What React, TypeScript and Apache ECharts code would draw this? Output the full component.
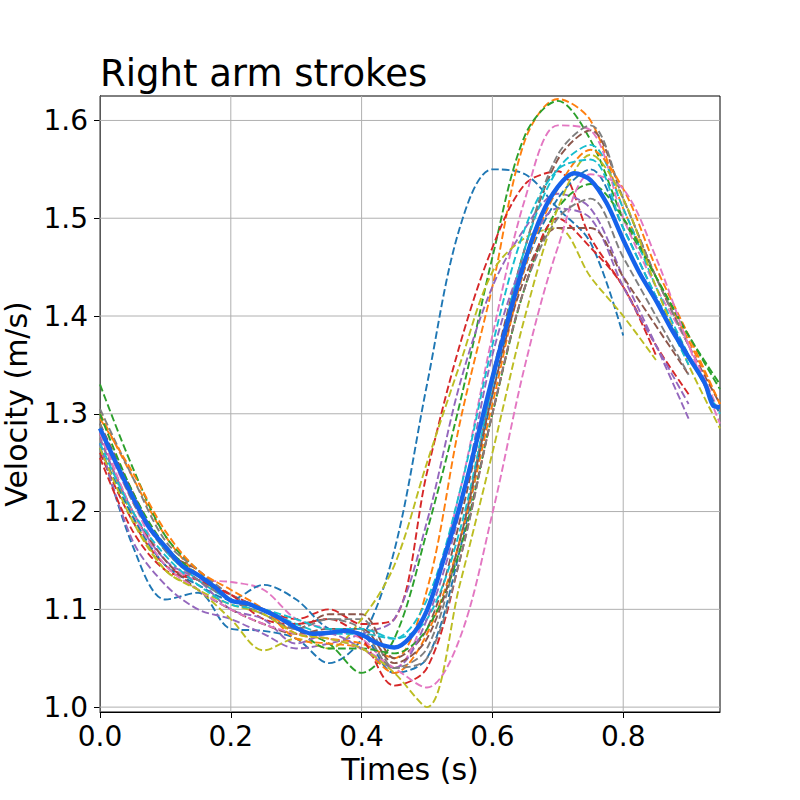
import React, { useEffect, useRef } from "react";
import * as echarts from "echarts";

const times = [0, 0.05, 0.1, 0.15, 0.2, 0.25, 0.3, 0.35, 0.4, 0.45, 0.5, 0.55, 0.6, 0.65, 0.7, 0.75, 0.8, 0.85, 0.9, 0.948];

const meanTimes = [0, 0.025, 0.05, 0.075, 0.1, 0.125, 0.15, 0.175, 0.2, 0.225, 0.25, 0.275, 0.3, 0.325, 0.35, 0.375,
  0.4, 0.425, 0.45, 0.475, 0.5, 0.525, 0.55, 0.575, 0.6, 0.625, 0.65, 0.675, 0.7, 0.725, 0.75, 0.775, 0.8, 0.825,
  0.85, 0.875, 0.9, 0.925, 0.938, 0.948];

const meanVelocity = [1.285, 1.249, 1.215, 1.184, 1.164, 1.145, 1.135, 1.123, 1.109, 1.106, 1.099, 1.091, 1.081, 1.075,
  1.076, 1.078, 1.074, 1.065, 1.061, 1.072, 1.099, 1.150, 1.205, 1.270, 1.337, 1.399, 1.457, 1.503, 1.532, 1.546,
  1.539, 1.515, 1.478, 1.444, 1.416, 1.385, 1.358, 1.331, 1.308, 1.307];

const xTicks = [0, 0.2, 0.4, 0.6, 0.8];
const yTicks = [1.0, 1.1, 1.2, 1.3, 1.4, 1.5, 1.6];

const tab10 = ["#1f77b4", "#ff7f0e", "#2ca02c", "#d62728", "#9467bd", "#8c564b", "#e377c2", "#7f7f7f", "#bcbd22", "#17becf"];

const stroke01 = [1.27, 1.165, 1.11, 1.117, 1.08, 1.078, 1.07, 1.045, 1.07, 1.16, 1.33, 1.49, 1.55, 1.545, 1.51, 1.475, 1.38, null, null, null];
const stroke02 = [1.30, 1.235, 1.175, 1.135, 1.11, 1.10, 1.075, 1.07, 1.065, 1.05, 1.12, 1.29, 1.43, 1.58, 1.622, 1.60, 1.51, 1.44, 1.375, 1.31];
const stroke03 = [1.33, 1.245, 1.175, 1.14, 1.11, 1.10, 1.08, 1.065, 1.035, 1.07, 1.18, 1.31, 1.46, 1.585, 1.62, 1.58, 1.50, 1.44, 1.38, 1.325];
const stroke04 = [1.26, 1.19, 1.145, 1.13, 1.115, 1.10, 1.09, 1.10, 1.085, 1.09, 1.24, 1.37, 1.47, 1.535, 1.548, 1.48, 1.43, 1.37, 1.32, null];
const stroke05 = [1.27, 1.17, 1.125, 1.10, 1.09, 1.075, 1.06, 1.065, 1.075, 1.09, 1.19, 1.33, 1.43, 1.49, 1.525, 1.51, 1.44, 1.37, 1.295, null];
const stroke06 = [1.29, 1.22, 1.16, 1.14, 1.11, 1.095, 1.08, 1.095, 1.095, 1.05, 1.08, 1.19, 1.34, 1.47, 1.56, 1.59, 1.52, 1.44, 1.37, 1.31];
const stroke07 = [1.28, 1.21, 1.15, 1.13, 1.128, 1.12, 1.09, 1.08, 1.07, 1.04, 1.10, 1.22, 1.38, 1.52, 1.595, 1.59, 1.50, 1.43, 1.37, 1.30];
const stroke08 = [1.305, 1.235, 1.17, 1.14, 1.115, 1.10, 1.085, 1.09, 1.09, 1.04, 1.06, 1.17, 1.33, 1.47, 1.565, 1.595, 1.52, 1.44, 1.37, null];
const stroke09 = [1.275, 1.195, 1.14, 1.12, 1.09, 1.058, 1.07, 1.06, 1.09, 1.145, 1.25, 1.35, 1.445, 1.48, 1.49, 1.44, 1.40, 1.355, null, null];
const stroke10 = [1.285, 1.215, 1.16, 1.13, 1.11, 1.10, 1.085, 1.075, 1.075, 1.07, 1.09, 1.18, 1.33, 1.47, 1.55, 1.575, 1.51, 1.43, 1.36, 1.30];
const stroke11 = [1.265, 1.195, 1.145, 1.125, 1.11, 1.125, 1.11, 1.08, 1.075, 1.035, 1.05, 1.16, 1.32, 1.45, 1.52, 1.55, 1.49, 1.42, 1.36, 1.30];
const stroke12 = [1.295, 1.24, 1.18, 1.14, 1.12, 1.10, 1.07, 1.065, 1.06, 1.035, 1.075, 1.17, 1.31, 1.45, 1.53, 1.57, 1.53, 1.45, 1.38, 1.31];
const stroke13 = [1.30, 1.22, 1.165, 1.135, 1.11, 1.10, 1.08, 1.06, 1.06, 1.055, 1.08, 1.16, 1.30, 1.43, 1.51, 1.535, 1.50, 1.44, 1.38, 1.33];
const stroke14 = [1.255, 1.18, 1.14, 1.13, 1.115, 1.09, 1.085, 1.09, 1.07, 1.022, 1.04, 1.15, 1.30, 1.43, 1.50, 1.47, 1.43, 1.36, null, null];
const stroke15 = [1.275, 1.20, 1.15, 1.13, 1.10, 1.09, 1.065, 1.075, 1.06, 1.04, 1.09, 1.20, 1.36, 1.46, 1.51, 1.50, 1.43, 1.37, 1.31, null];
const stroke16 = [1.28, 1.20, 1.15, 1.12, 1.10, 1.085, 1.075, 1.08, 1.08, 1.045, 1.07, 1.17, 1.32, 1.44, 1.49, 1.49, 1.44, 1.39, 1.34, null];
const stroke17 = [1.28, 1.20, 1.145, 1.12, 1.10, 1.085, 1.075, 1.07, 1.06, 1.04, 1.02, 1.07, 1.198, 1.35, 1.47, 1.545, 1.53, 1.46, 1.37, 1.29];
const stroke18 = [1.29, 1.21, 1.16, 1.13, 1.11, 1.095, 1.08, 1.09, 1.08, 1.04, 1.05, 1.15, 1.30, 1.43, 1.50, 1.52, 1.46, 1.40, 1.34, null];
const stroke19 = [1.265, 1.19, 1.14, 1.12, 1.105, 1.095, 1.075, 1.07, 1.06, 1.035, 1.0, 1.125, 1.26, 1.40, 1.51, 1.565, 1.52, 1.43, 1.35, 1.285];
const stroke20 = [1.27, 1.20, 1.155, 1.125, 1.105, 1.10, 1.09, 1.08, 1.08, 1.07, 1.11, 1.22, 1.37, 1.49, 1.55, 1.56, 1.49, 1.42, 1.35, null];

const strokes = [stroke01, stroke02, stroke03, stroke04, stroke05, stroke06, stroke07, stroke08, stroke09, stroke10,
  stroke11, stroke12, stroke13, stroke14, stroke15, stroke16, stroke17, stroke18, stroke19, stroke20];

const X_MIN = 0, X_MAX = 0.948, Y_MIN = 0.995, Y_MAX = 1.625;

const FONT = "DejaVu Sans";

export default function App() {
  const ref = useRef<HTMLDivElement>(null);
  useEffect(() => {
    if (!ref.current) return;
    const chart = echarts.init(ref.current, null, { renderer: "svg" });
    const toPairs = (ts: number[], vals: (number | null)[]) =>
      vals.map((v, i) => (v === null ? null : [ts[i], v])).filter((p) => p !== null);

    const gridSeries: any[] = [];
    yTicks.forEach((v) => {
      gridSeries.push({
        type: "line", silent: true, symbol: "none",
        data: [[X_MIN, v], [X_MAX, v]],
        lineStyle: { color: "#b0b0b0", width: 1 }, z: 1,
      });
    });
    xTicks.forEach((t) => {
      gridSeries.push({
        type: "line", silent: true, symbol: "none",
        data: [[t, Y_MIN], [t, Y_MAX]],
        lineStyle: { color: "#b0b0b0", width: 1 }, z: 1,
      });
    });

    const strokeSeries = strokes.map((s, i) => ({
      type: "line",
      name: "stroke" + (i + 1),
      data: toPairs(times, s),
      smooth: 0.33,
      symbol: "none",
      clip: true,
      lineStyle: { color: tab10[i % 10], width: 1.9, type: [7.5, 3.2] },
      z: 2,
    }));

    const meanSeries = {
      type: "line",
      name: "mean",
      data: toPairs(meanTimes, meanVelocity),
      smooth: 0.3,
      symbol: "none",
      clip: true,
      lineStyle: { color: "#1663eb", width: 4.4 },
      z: 3,
    };

    chart.setOption({
      animation: false,
      backgroundColor: "#ffffff",
      textStyle: { fontFamily: FONT },
      title: {
        text: "Right arm strokes",
        left: 95,
        top: 50,
        textStyle: { fontFamily: FONT, fontSize: 37, fontWeight: "normal", color: "#000" },
      },
      grid: {
        left: 100, right: 80, top: 96, bottom: 88,
        containLabel: false,
        outerBoundsMode: "none",
        show: true, borderColor: "#000", borderWidth: 1, backgroundColor: "transparent",
      },
      xAxis: {
        type: "value",
        min: X_MIN, max: X_MAX,
        name: "Times (s)",
        nameLocation: "middle",
        nameGap: 40,
        nameTextStyle: { fontFamily: FONT, fontSize: 30, color: "#000" },
        axisLine: { show: true, lineStyle: { color: "#000", width: 1 } },
        axisTick: { show: true, length: 6, lineStyle: { color: "#000" }, customValues: xTicks },
        axisLabel: {
          customValues: xTicks, fontFamily: FONT, fontSize: 28, color: "#000", margin: 10,
          formatter: (v: number) => v.toFixed(1),
        },
        splitLine: { show: false },
      },
      yAxis: {
        type: "value",
        min: Y_MIN, max: Y_MAX,
        name: "Velocity (m/s)",
        nameLocation: "middle",
        nameGap: 69,
        nameRotate: 90,
        nameTextStyle: { fontFamily: FONT, fontSize: 30, color: "#000" },
        axisLine: { show: true, lineStyle: { color: "#000", width: 1 } },
        axisTick: { show: true, length: 6, lineStyle: { color: "#000" }, customValues: yTicks },
        axisLabel: {
          customValues: yTicks, fontFamily: FONT, fontSize: 28, color: "#000", margin: 12,
          formatter: (v: number) => v.toFixed(1),
        },
        splitLine: { show: false },
      },
      series: [...gridSeries, ...strokeSeries, meanSeries],
    });
    return () => chart.dispose();
  }, []);
  return <div ref={ref} style={{ width: 800, height: 800, position: "absolute", left: 0, top: 0 }} />;
}
